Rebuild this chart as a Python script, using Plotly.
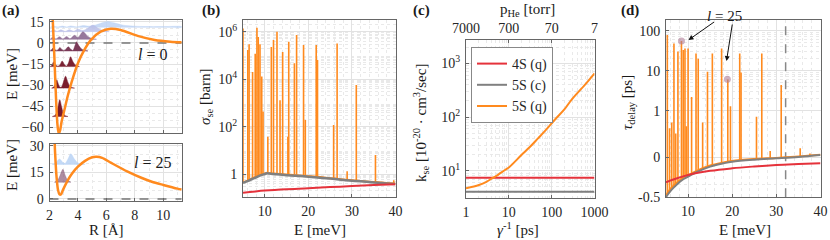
import numpy as np
import plotly.graph_objects as go

# ---------------- DATA ----------------
# (a) top: l = 0 interaction potential  [R in Angstrom, E in meV]
R_pot0 = [2.15, 2.23, 2.35, 2.47, 2.56, 2.65, 2.75, 2.85, 3.05, 3.3, 3.55, 4.0, 4.45, 4.9, 5.6, 6.3, 7.0, 8.2, 9.4, 10.5, 11.3]
E_pot0 = [32, 16, -12, -42, -58, -64.5, -62, -56, -47.5, -37, -28, -14.4, -5, 2, 8, 10, 9.2, 5.0, 2.1, 0.9, 0.5]
# (a) bottom: l = 25 effective potential
R_pot25 = [2.3, 2.4, 2.5, 2.6, 2.7, 2.8, 2.95, 3.3, 3.6, 4.0, 4.5, 5.0, 5.3, 5.7, 6.35, 7.5, 8.5, 9.2, 10.0, 11.0, 11.3]
E_pot25 = [45, 25, 12, 5, 2.6, 2.5, 5.1, 10.7, 14.5, 18.2, 21.5, 23.5, 23.8, 23.2, 20.3, 15.4, 11.8, 9.7, 7.9, 5.8, 5.3]

# bound / quasi-bound state densities: level energy, R samples, height above level
wf0_levels = [11.1, 8.0, 2.6, -5.7, -16.8, -32.1, -52.3]
wf0_R = [
    [2.05, 2.3, 2.6, 2.9, 3.2, 3.5, 3.9, 4.3, 4.8, 5.3, 5.7, 6.1, 6.6, 7.2, 8.0, 9.0, 10.0, 11.3],
    [2.05, 2.3, 2.55, 2.8, 3.1, 3.4, 3.7, 4.0, 4.35, 4.7, 5.05, 5.4, 5.8, 6.2],
    [2.05, 2.25, 2.45, 2.7, 2.95, 3.2, 3.45, 3.75, 4.0, 4.35, 4.7, 5.0, 5.3],
    [2.05, 2.15, 2.26, 2.4, 2.5, 2.62, 2.73, 2.87, 3.0, 3.15, 3.32, 3.5, 3.65, 3.8, 3.9, 4.05, 4.3, 4.7],
    [2.05, 2.18, 2.3, 2.45, 2.6, 2.75, 2.89, 3.05, 3.2, 3.35, 3.48, 3.65, 3.85, 4.1],
    [2.15, 2.3, 2.4, 2.51, 2.62, 2.75, 2.85, 2.97, 3.13, 3.3, 3.45, 3.76],
    [2.2, 2.4, 2.5, 2.6, 2.72, 2.85, 2.95, 3.05, 3.3],
]
wf0_h = [
    [0, 0.8, 0.2, 0.9, 0.2, 1.0, 0.3, 1.2, 0.8, 1.8, 3.2, 4.2, 3.0, 1.5, 0.8, 0.5, 0.5, 0.5],
    [0, 1.2, 0.2, 1.3, 0.2, 1.4, 0.3, 1.8, 0.8, 2.5, 4.7, 2.5, 0.6, 0],
    [0, 1.5, 0.2, 1.8, 0.2, 2.0, 0.3, 2.8, 1.2, 5.4, 2.0, 0.4, 0],
    [0, 0.8, 2.2, 0.8, 0.2, 1.0, 2.5, 1.0, 0.2, 1.3, 3.0, 1.2, 0.4, 4.0, 6.5, 4.0, 1.0, 0],
    [0, 1.2, 3.5, 1.2, 0.2, 1.5, 4.0, 1.5, 0.3, 3.0, 7.0, 3.5, 0.8, 0],
    [0, 0.8, 3.0, 6.0, 3.0, 0.6, 0.8, 4.0, 8.5, 4.0, 1.0, 0],
    [0, 1.0, 3.0, 7.0, 12.0, 7.0, 3.0, 1.0, 0],
]
wf0_colors = ["rgba(190,212,245,0.85)", "rgba(184,190,232,0.85)", "rgba(140,105,145,0.9)",
              "#7b3b58", "#7a2233", "#7a1d2d", "#7a1a2a"]

wf25_levels = [19.5, 9.4]
wf25_R = [
    [2.2, 2.45, 2.7, 2.95, 3.1, 3.3, 3.5, 3.75, 4.0, 4.5],
    [2.35, 2.6, 2.75, 2.94, 3.1, 3.25, 3.5],
]
wf25_h = [
    [0, 1.0, 3.0, 1.0, 0.5, 3.0, 6.0, 3.0, 0.8, 0],
    [0, 1.5, 4.0, 7.3, 4.0, 1.5, 0],
]
wf25_colors = ["rgba(185,210,245,0.85)", "rgba(130,80,110,0.65)"]

# (b) spin-exchange cross section [barn] vs E [meV]
E_b = [5, 6, 7, 8, 9, 10, 10.5, 11, 12, 14, 16, 18, 20, 22, 25, 28, 30, 32, 35, 38, 40]
sig_5S_c = [0.42, 0.5, 0.6, 0.72, 0.87, 1.0, 1.07, 1.05, 1.0, 0.93, 0.87, 0.82, 0.77, 0.72, 0.64, 0.56, 0.52, 0.49, 0.44, 0.4, 0.38]
sig_5S_q_base = [0.45, 0.53, 0.64, 0.77, 0.92, 1.06, 1.12, 1.1, 1.05, 0.98, 0.92, 0.86, 0.81, 0.76, 0.67, 0.59, 0.55, 0.51, 0.46, 0.42, 0.4]
E_b_red = [5, 10, 15, 20, 25, 30, 35, 40]
sig_4S_q = [0.16, 0.2, 0.23, 0.25, 0.28, 0.31, 0.34, 0.37]
spike_E_b = [5.0, 6.1, 6.4, 7.2, 7.8, 8.2, 8.5, 8.9, 9.3, 9.6, 10.7, 11.5, 12.0, 12.8, 13.5, 14.1, 15.3, 15.5,
             16.8, 17.3, 18.9, 19.3, 21.8, 22.1, 25.8, 26.6, 28.9, 31.0, 35.4, 39.6]
spike_sig_b = [1.4e6, 1.7e5, 3e5, 2e4, 1.2e5, 1.5e6, 6e5, 3e5, 1.3e4, 430, 37, 2.3e5, 4.5e5, 1e6, 1300, 1.4e5, 37, 3.8e5,
               4.7e4, 7.4e5, 2.8e5, 190, 2.8e5, 6.5e4, 117, 3.2e5, 1.3, 5700, 6.3, 0.55]

# (c) rate coefficient vs gamma^-1 [ps]
g_inv = [1, 2, 3, 4.3, 5, 8.1, 10, 19.7, 30, 48, 70, 117, 200, 287, 500, 700, 960, 1000]
k_5S_q = [4.7, 5.4, 6.2, 7.4, 7.9, 10.3, 11.5, 19.6, 27, 40, 55, 88, 140, 207, 340, 460, 625, 650]
g_inv_flat = [1, 1000]
k_4S_q = [7.4, 7.4]
k_5S_c = [4.07, 4.07]
p_He_labels = ["7000", "700", "70", "7"]

# (d) time delay [ps] vs E [meV]
E_d = [5, 5.5, 6, 7, 8, 9, 10, 12, 15, 18, 20, 25, 30, 35, 40]
tau_5S_c = [-0.5, -0.42, -0.36, -0.28, -0.22, -0.18, -0.155, -0.11, -0.066, -0.042, -0.030, -0.016, -0.007, 0.003, 0.018]
tau_5S_q_base = [-0.45, -0.38, -0.32, -0.25, -0.2, -0.16, -0.14, -0.1, -0.058, -0.036, -0.025, -0.012, -0.004, 0.006, 0.02]
E_d_red = [5, 7, 10, 15, 20, 25, 30, 35, 40]
tau_4S_q = [-0.22, -0.18, -0.138, -0.1, -0.079, -0.065, -0.054, -0.047, -0.041]
spike_E_d = [5.3, 5.8, 6.3, 6.8, 7.2, 7.7, 8.5, 8.9, 9.3, 9.6, 10.0, 10.8, 11.8, 12.3, 13.3, 14.4, 15.5, 17.6, 19.0, 19.6,
             21.7, 22.0, 25.5, 26.7, 28.6, 31.1, 35.4, 37.6]
spike_tau_d = [78, 0.35, 0.5, 48, 0.25, 30, 55, 33, 36, 0.4, 36, 2.2, 27, 20, 0.5, 9.4, 27, 36, 6.0, 1.3,
               27, 9, 0.7, 27, 0.05, 4.4, 0.075, 0.03]
l25_E = [8.5, 18.9]
l25_tau = [55, 6.1]
E_threshold = 32.1

# ---------------- helpers ----------------
SERIF = "Liberation Serif"
ORANGE = "#FF8A1E"
RED = "#E5323B"
GRAY = "#808080"
W, H = 830, 240

# symmetric-log like scale for panel (d)
D_TICK_VALS = [-0.5, 0, 1, 10, 100, 1000]
D_TICK_POS = [0, 40, 86.6, 126.6, 166.6, 206.6]
C_SYM = 0.136


def tau_scale(v):
    s = np.arcsinh(np.asarray(v, float) / C_SYM)
    return np.interp(s, np.arcsinh(np.array(D_TICK_VALS) / C_SYM), D_TICK_POS)


def px(x):
    return x / W


def py(y):
    return 1 - y / H


def axis(**kw):
    d = dict(showline=True, linecolor="#666", linewidth=1, mirror=True, ticks="inside", ticklen=3,
             tickcolor="#666", showgrid=True, gridcolor="#e2e2e2", gridwidth=1, zeroline=False,
             automargin=False,
             tickfont=dict(family=SERIF, size=14, color="#262626"))
    d.update(kw)
    return d


def minor_dot(vals=None, dtick=None):
    m = dict(showgrid=True, gridcolor="#e9e9e9", griddash="dot", ticks="")
    if vals is not None:
        m.update(tickmode="array", tickvals=vals)
    if dtick is not None:
        m.update(dtick=dtick)
    return m


fig = go.Figure()

# ---------- panel (a) top ----------
fig.add_trace(go.Scatter(x=[2, 11.3], y=[0, 0], xaxis="x", yaxis="y", mode="lines",
                         line=dict(color="#777", width=1.5, dash="dash"), showlegend=False, hoverinfo="skip"))
for lev, rr, hh, col in zip(wf0_levels, wf0_R, wf0_h, wf0_colors):
    xs = list(rr) + list(rr[::-1])
    ys = [lev + v for v in hh] + [lev] * len(rr)
    fig.add_trace(go.Scatter(x=xs, y=ys, xaxis="x", yaxis="y", mode="lines", fill="toself",
                             fillcolor=col, line=dict(color=col, width=0.5, shape="spline", smoothing=0.8),
                             showlegend=False, hoverinfo="skip"))
fig.add_trace(go.Scatter(x=R_pot0, y=E_pot0, xaxis="x", yaxis="y", mode="lines",
                         line=dict(color=ORANGE, width=2.5, shape="spline", smoothing=0.8),
                         showlegend=False, hoverinfo="skip"))

# ---------- panel (a) bottom ----------
fig.add_trace(go.Scatter(x=[2, 11.3], y=[0, 0], xaxis="x2", yaxis="y2", mode="lines",
                         line=dict(color="#777", width=1.5, dash="dash"), showlegend=False, hoverinfo="skip"))
for lev, rr, hh, col in zip(wf25_levels, wf25_R, wf25_h, wf25_colors):
    xs = list(rr) + list(rr[::-1])
    ys = [lev + v for v in hh] + [lev] * len(rr)
    fig.add_trace(go.Scatter(x=xs, y=ys, xaxis="x2", yaxis="y2", mode="lines", fill="toself",
                             fillcolor=col, line=dict(color=col, width=0.5, shape="spline", smoothing=0.8),
                             showlegend=False, hoverinfo="skip"))
fig.add_trace(go.Scatter(x=R_pot25, y=E_pot25, xaxis="x2", yaxis="y2", mode="lines",
                         line=dict(color=ORANGE, width=2.5, shape="spline", smoothing=0.8),
                         showlegend=False, hoverinfo="skip"))

# ---------- panel (b) ----------
sx, sy = [], []
for e, v in zip(spike_E_b, spike_sig_b):
    foot = float(np.interp(e, E_b, sig_5S_q_base))
    sx += [e, e, None]
    sy += [foot, v, None]
fig.add_trace(go.Scatter(x=sx, y=sy, xaxis="x3", yaxis="y3", mode="lines",
                         line=dict(color=ORANGE, width=1.6), showlegend=False, hoverinfo="skip"))
fig.add_trace(go.Scatter(x=E_b, y=sig_5S_q_base, xaxis="x3", yaxis="y3", mode="lines",
                         line=dict(color=ORANGE, width=2, shape="spline"), showlegend=False, hoverinfo="skip"))
fig.add_trace(go.Scatter(x=E_b, y=sig_5S_c, xaxis="x3", yaxis="y3", mode="lines",
                         line=dict(color=GRAY, width=2.5, shape="spline"), showlegend=False, hoverinfo="skip"))
fig.add_trace(go.Scatter(x=E_b_red, y=sig_4S_q, xaxis="x3", yaxis="y3", mode="lines",
                         line=dict(color=RED, width=2, shape="spline"), showlegend=False, hoverinfo="skip"))

# ---------- panel (c) ----------
fig.add_trace(go.Scatter(x=g_inv_flat, y=k_4S_q, xaxis="x4", yaxis="y4", mode="lines",
                         line=dict(color=RED, width=2), name="4S (q)"))
fig.add_trace(go.Scatter(x=g_inv_flat, y=k_5S_c, xaxis="x4", yaxis="y4", mode="lines",
                         line=dict(color=GRAY, width=2), name="5S (c)"))
fig.add_trace(go.Scatter(x=g_inv, y=k_5S_q, xaxis="x4", yaxis="y4", mode="lines",
                         line=dict(color=ORANGE, width=2, shape="spline"), name="5S (q)"))
fig.add_trace(go.Scatter(x=g_inv_flat, y=k_4S_q, xaxis="x5", yaxis="y4", mode="lines",
                         opacity=0, showlegend=False, hoverinfo="skip"))

# ---------- panel (d) ----------
fig.add_trace(go.Scatter(x=[E_threshold, E_threshold], y=[0, 177.3], xaxis="x6", yaxis="y6", mode="lines",
                         line=dict(color="#888", width=1.5, dash="dash"), showlegend=False, hoverinfo="skip"))
dx, dy = [], []
for e, v in zip(spike_E_d, spike_tau_d):
    foot = float(np.interp(e, E_d, tau_5S_q_base))
    dx += [e, e, None]
    dy += [float(tau_scale(foot)), float(tau_scale(v)), None]
fig.add_trace(go.Scatter(x=dx, y=dy, xaxis="x6", yaxis="y6", mode="lines",
                         line=dict(color=ORANGE, width=1.6), showlegend=False, hoverinfo="skip"))
fig.add_trace(go.Scatter(x=E_d, y=tau_scale(tau_5S_q_base), xaxis="x6", yaxis="y6", mode="lines",
                         line=dict(color=ORANGE, width=2, shape="spline"), showlegend=False, hoverinfo="skip"))
fig.add_trace(go.Scatter(x=E_d, y=tau_scale(tau_5S_c), xaxis="x6", yaxis="y6", mode="lines",
                         line=dict(color=GRAY, width=2, shape="spline"), showlegend=False, hoverinfo="skip"))
fig.add_trace(go.Scatter(x=E_d_red, y=tau_scale(tau_4S_q), xaxis="x6", yaxis="y6", mode="lines",
                         line=dict(color=RED, width=2, shape="spline"), showlegend=False, hoverinfo="skip"))
fig.add_trace(go.Scatter(x=l25_E, y=tau_scale(l25_tau), xaxis="x6", yaxis="y6", mode="markers",
                         marker=dict(color="rgba(175,125,150,0.6)", size=7), showlegend=False, hoverinfo="skip"))

# ---------------- LAYOUT ----------------
ax_dom = [px(49.5), px(181.7)]
log_minor_b = [m * 10 ** d for d in range(-1, 7) for m in range(2, 10)]
log_minor_c = [m * 10 ** d for d in range(0, 4) for m in range(2, 10)]
d_minor_vals = [float(v) for v in tau_scale([2, 3, 4, 5, 6, 7, 8, 9, 20, 30, 40, 50, 60, 70, 80, 90, 0.5, -0.25])]
XSO = 1   # extra gap for bottom tick labels
YSO = 2   # extra gap for left tick labels

layout = dict(
    width=W, height=H, margin=dict(l=0, r=0, t=0, b=0, autoexpand=False),
    paper_bgcolor="white", plot_bgcolor="white",
    font=dict(family=SERIF, size=14, color="#262626"),
    # (a) top
    xaxis=axis(domain=ax_dom, anchor="y", range=[2, 11.3], tickvals=[2, 4, 6, 8, 10],
               showticklabels=False, minor=minor_dot(vals=[3, 5, 7, 9, 11])),
    yaxis=axis(domain=[py(133), py(20)], anchor="x", range=[-64, 16.3], ticklabelstandoff=YSO,
               tickvals=[-60, -45, -30, -15, 0, 15], minor=minor_dot(dtick=5)),
    # (a) bottom
    xaxis2=axis(domain=ax_dom, anchor="y2", range=[2, 11.3], tickvals=[2, 4, 6, 8, 10],
                ticklabelstandoff=XSO, minor=minor_dot(vals=[3, 5, 7, 9, 11])),
    yaxis2=axis(domain=[py(200.7), py(144)], anchor="x2", range=[-1, 31], ticklabelstandoff=YSO,
                tickvals=[0, 15, 30], minor=minor_dot(dtick=5)),
    # (b)
    xaxis3=axis(domain=[px(243), px(395.5)], anchor="y3", range=[5, 40], tickvals=[10, 20, 30, 40],
                ticklabelstandoff=XSO, minor=minor_dot(dtick=2)),
    yaxis3=axis(domain=[py(197), py(20)], anchor="x3", type="log", range=[-0.97, 6.5],
                tickvals=[1, 100, 1e4, 1e6], ticklabelstandoff=YSO,
                ticktext=["1", "10<sup>2</sup>", "10<sup>4</sup>", "10<sup>6</sup>"],
                minor=minor_dot(vals=log_minor_b)),
    # (c)
    xaxis4=axis(domain=[px(466), px(594.5)], anchor="y4", type="log", range=[0, 3],
                tickvals=[1, 10, 100, 1000], ticktext=["1", "10", "100", "1000"],
                ticklabelstandoff=XSO, minor=minor_dot(vals=log_minor_c)),
    yaxis4=axis(domain=[py(198.3), py(40)], anchor="x4", type="log", range=[0.486, 3.434],
                tickvals=[10, 100, 1000], ticklabelstandoff=YSO,
                ticktext=["10<sup>1</sup>", "10<sup>2</sup>", "10<sup>3</sup>"],
                minor=minor_dot(vals=log_minor_c)),
    xaxis5=axis(domain=[px(466), px(594.5)], anchor="y4", overlaying="x4", side="top", type="log",
                range=[0, 3], tickvals=[1, 10, 100, 1000], ticktext=p_He_labels, showgrid=False,
                mirror=False, ticklabelstandoff=0),
    # (d)
    xaxis6=axis(domain=[px(666), px(820.5)], anchor="y6", range=[5, 40], tickvals=[10, 20, 30, 40],
                ticklabelstandoff=XSO, minor=minor_dot(dtick=2)),
    yaxis6=axis(domain=[py(197.3), py(20)], anchor="x6", range=[0, 177.3], ticklabelstandoff=YSO,
                tickvals=D_TICK_POS[:5], ticktext=["-0.5", "0", "1", "10", "100"],
                minor=minor_dot(vals=d_minor_vals)),
    legend=dict(x=px(471), y=py(47), xanchor="left", yanchor="top", bgcolor="white",
                bordercolor="#888", borderwidth=1, font=dict(family=SERIF, size=14, color="#262626"),
                tracegroupgap=0, itemwidth=30),
    showlegend=True,
)
fig.update_layout(**layout)

# ---------------- TEXT ----------------
def ann(x, y, text, size=15, angle=0, bold=False, **kw):
    t = f"<b>{text}</b>" if bold else text
    fig.add_annotation(x=px(x), y=py(y), xref="paper", yref="paper", text=t, showarrow=False,
                       xanchor="center", yanchor="middle",
                       textangle=angle, font=dict(family=SERIF, size=size, color="#1a1a1a"), **kw)

ann(11, 11, "(a)", 15, bold=True)
ann(211, 11, "(b)", 15, bold=True)
ann(421, 11, "(c)", 15, bold=True)
ann(630, 11, "(d)", 15, bold=True)

ann(12, 74, "E [meV]", 15, angle=-90)
ann(12, 165, "E [meV]", 15, angle=-90)
ann(106, 230, "R [Å]", 15)
ann(152, 55, "<i>l</i> = 0", 16)
ann(152, 162, "<i>l</i> = 25", 16)

ann(206, 97, "<i>σ</i><sub>se</sub> [barn]", 15, angle=-90)
ann(320, 229.5, "E [meV]", 15)

ann(421, 123, "k<sub>se</sub> [10<sup>-20</sup> · cm<sup>3</sup>/sec]", 15, angle=-90)
ann(518, 229, "<i>γ</i><sup>-1</sup> [ps]", 15)
ann(527, 10, "p<sub>He</sub> [torr]", 15)

ann(628, 103, "<i>τ</i><sub>delay</sub> [ps]", 15, angle=-90)
ann(745, 229.5, "E [meV]", 15)
ann(724, 16, "<i>l</i> = 25", 15)

fig.add_annotation(x=px(688.5), y=py(40), xref="paper", yref="paper", ax=27, ay=-19, text="",
                   showarrow=True, arrowhead=2, arrowsize=1, arrowwidth=1, arrowcolor="#111")
fig.add_annotation(x=px(726.5), y=py(61), xref="paper", yref="paper", ax=6, ay=-38, text="",
                   showarrow=True, arrowhead=2, arrowsize=1, arrowwidth=1, arrowcolor="#111")

fig.write_html("out.html", post_script="document.body.style.margin='0px';",
               config={"displayModeBar": False})
